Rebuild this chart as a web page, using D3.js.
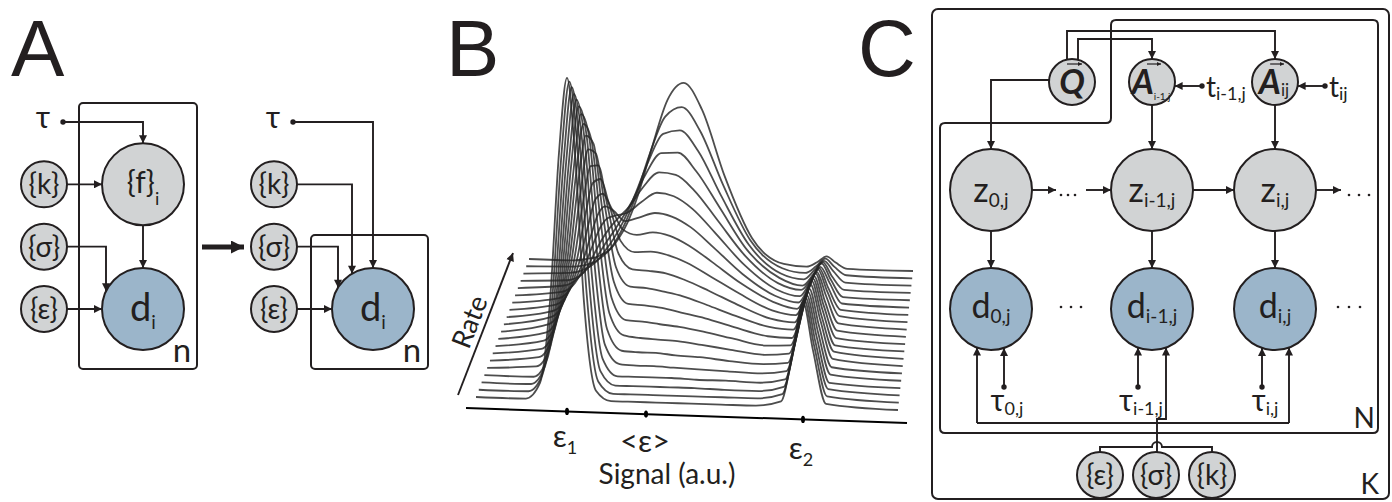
<!DOCTYPE html>
<html>
<head>
<meta charset="utf-8">
<script src="https://cdn.jsdelivr.net/npm/d3@7"></script>
<style>
  body { margin: 0; background: #fff; }
  svg { display: block; font-family: Lato, "Open Sans", "DejaVu Sans", sans-serif; }
</style>
</head>
<body>
<svg id="figure" width="1392" height="502"></svg>
<script>
// ---------- data ----------

// Panel B: signal histograms, one row per exchange rate (front row = slowest)
const signalPos = [0, 50, 64, 74, 83, 91, 99, 108, 120, 135, 152, 170, 190, 215, 245, 280, 305, 317, 327, 337, 350, 422];
const rateHeights = [
  [0, 0, 16, 98, 247, 322, 247, 98, 10, 0, 0, 0, 0, 0, 0, 0, 5, 57, 105, 57, 4, 0],
  [0, 0, 17, 96, 237, 311, 247, 104, 12, 0, 0, 0, 0, 0, 0, 0, 5, 54, 100, 54, 4, 0],
  [0, 0, 18, 94, 226, 298, 243, 110, 15, 1, 1, 1, 1, 1, 0, 0, 5, 51, 95, 51, 4, 0],
  [0, 0, 19, 92, 216, 284, 239, 115, 20, 3, 3, 3, 3, 2, 2, 1, 5, 49, 90, 49, 3, 0],
  [0, 3, 22, 92, 205, 271, 234, 122, 27, 8, 7, 7, 6, 5, 4, 3, 6, 48, 86, 47, 4, 0],
  [0, 5, 25, 91, 196, 257, 228, 127, 35, 14, 13, 13, 11, 10, 7, 5, 7, 46, 82, 45, 4, 0],
  [0, 6, 27, 89, 184, 242, 221, 131, 44, 22, 20, 19, 18, 15, 11, 7, 9, 45, 79, 44, 5, 0],
  [0, 7, 29, 86, 172, 225, 210, 134, 52, 30, 29, 27, 25, 21, 15, 9, 10, 43, 75, 41, 5, 0],
  [0, 8, 30, 82, 158, 206, 198, 133, 61, 39, 38, 36, 32, 27, 19, 11, 10, 41, 70, 39, 4, 0],
  [0, 9, 29, 76, 142, 185, 181, 131, 68, 49, 48, 45, 41, 33, 23, 13, 11, 39, 65, 36, 4, 0],
  [0, 9, 27, 68, 124, 161, 162, 125, 75, 59, 58, 56, 50, 40, 27, 14, 11, 36, 61, 33, 4, 0],
  [0, 8, 25, 59, 105, 137, 141, 116, 80, 69, 70, 67, 60, 47, 31, 15, 11, 34, 55, 31, 4, 0],
  [0, 7, 22, 50, 85, 113, 119, 105, 84, 79, 82, 79, 70, 54, 34, 16, 10, 30, 50, 28, 4, 0],
  [0, 6, 19, 40, 67, 90, 99, 95, 85, 89, 94, 91, 81, 61, 36, 15, 9, 27, 44, 24, 3, 0],
  [0, 5, 14, 31, 52, 70, 80, 83, 86, 97, 107, 104, 92, 68, 38, 14, 8, 24, 38, 22, 2, 0],
  [0, 4, 11, 22, 38, 52, 63, 73, 85, 105, 120, 118, 103, 74, 39, 13, 7, 20, 34, 18, 1, 0],
  [0, 2, 7, 16, 27, 39, 50, 63, 82, 110, 132, 133, 115, 80, 38, 11, 4, 16, 28, 14, 1, 0],
  [0, 2, 5, 10, 18, 28, 39, 54, 79, 114, 144, 148, 128, 84, 36, 8, 3, 13, 22, 12, 1, 0],
  [0, 1, 3, 6, 12, 19, 30, 46, 74, 116, 154, 164, 141, 88, 33, 6, 2, 9, 17, 9, 1, 0],
  [0, 0, 2, 4, 8, 14, 24, 39, 68, 115, 163, 181, 155, 89, 28, 3, 1, 6, 12, 6, 0, 0]
];
const signalTicks = [
  { pos: 91, base: 'ε', sub: '1' },
  { pos: 170, base: '<ε>', sub: '' },
  { pos: 327, base: 'ε', sub: '2' }
];

// Panel A / C: node labels
const priorLabels = ['{k}', '{σ}', '{ε}'];
const chainSteps = ['0', 'i-1', 'i'];
const ampSubs = ['i-1,j', 'ij'];
const bottomPriors = ['{ε}', '{σ}', '{k}'];

// ---------- setup ----------
const INK = '#231f20';
const GREY = '#d1d3d4';
const BLUE = '#9bb5ca';

const svg = d3.select('#figure');
svg.append('rect').attr('width', 1392).attr('height', 502).attr('fill', '#fff');

const defs = svg.append('defs');
function addMarker(id, w, h) {
  defs.append('marker')
    .attr('id', id)
    .attr('viewBox', '0 0 10 10')
    .attr('refX', 10).attr('refY', 5)
    .attr('markerWidth', w).attr('markerHeight', h)
    .attr('markerUnits', 'userSpaceOnUse')
    .attr('orient', 'auto')
    .append('path').attr('d', 'M0,0L10,5L0,10Z').attr('fill', INK);
}
addMarker('head', 10, 8);
addMarker('headSmall', 5, 4);
addMarker('headBig', 16, 13);

const link = d3.line();

function wire(g, pts, marker) {
  return g.append('path')
    .attr('d', link(pts))
    .attr('fill', 'none')
    .attr('stroke', INK)
    .attr('stroke-width', 1.9)
    .attr('marker-end', marker ? `url(#${marker})` : null);
}
function dot(g, x, y, r = 2.7) {
  g.append('circle').attr('cx', x).attr('cy', y).attr('r', r).attr('fill', INK);
}
function node(g, x, y, r, fill) {
  g.append('circle').attr('cx', x).attr('cy', y).attr('r', r)
    .attr('fill', fill).attr('stroke', INK).attr('stroke-width', 2);
}
// y where a vertical line at x meets a circle (top or bottom side)
function rimY(cx, cy, r, x, side = -1) {
  return cy + side * Math.sqrt(r * r - (x - cx) * (x - cx));
}
function label(g, x, y, base, sub, o = {}) {
  const t = g.append('text')
    .attr('x', x).attr('y', y)
    .attr('text-anchor', o.anchor || 'middle')
    .attr('font-size', o.size || 28)
    .attr('fill', INK);
  t.append('tspan')
    .attr('font-style', o.italic ? 'italic' : null)
    .attr('font-weight', o.bold ? 700 : null)
    .text(base);
  if (sub) {
    t.append('tspan').attr('font-size', o.subSize || 17).attr('dy', o.subDy || 6).text(sub);
  }
  return t;
}
function roundedPath(pts, r) {
  const n = pts.length;
  const towards = (p, q) => {
    const dx = q[0] - p[0], dy = q[1] - p[1], L = Math.hypot(dx, dy);
    return [p[0] + dx / L * r, p[1] + dy / L * r];
  };
  let d = '';
  pts.forEach((p, i) => {
    const a = towards(p, pts[(i - 1 + n) % n]);
    const b = towards(p, pts[(i + 1) % n]);
    d += `${i ? 'L' : 'M'}${a}Q${p} ${b}`;
  });
  return d + 'Z';
}

// panel letters
[['A', 11], ['B', 446], ['C', 858]].forEach(([t, x]) => {
  svg.append('text').attr('x', x).attr('y', 76)
    .attr('font-family', '"Liberation Sans", Arial, sans-serif')
    .attr('font-size', 80).attr('fill', INK).text(t);
});

// ---------- Panel A ----------
const rowA = d3.scaleLinear().domain([0, 3]).range([122, 309]);
const colA = d3.scaleLinear().domain([0, 1]).range([44, 143]);
const rBig = 41, rSmall = 23;

function drawModelA(g, collapsed) {
  const cx = colA(1);
  const px = colA(0);
  // plate
  if (collapsed) {
    g.append('rect').attr('x', 81).attr('y', 235).attr('width', 117).attr('height', 134)
      .attr('rx', 4).attr('fill', 'none').attr('stroke', INK).attr('stroke-width', 2);
  } else {
    g.append('rect').attr('x', 79).attr('y', 103).attr('width', 118).attr('height', 266)
      .attr('rx', 4).attr('fill', 'none').attr('stroke', INK).attr('stroke-width', 2);
  }
  // tau
  label(g, px - 1, rowA(0) + 6, 'τ', '', { size: 31 });
  dot(g, 63, rowA(0));
  const dTop = rowA(3) - rBig;
  wire(g, [[63, rowA(0)], [cx, rowA(0)], [cx, collapsed ? dTop : rowA(1) - rBig]], 'head');

  // priors
  priorLabels.forEach((lab, i) => {
    node(g, px, rowA(i + 1), rSmall, GREY);
    label(g, px, rowA(i + 1) + 10, lab, '', { size: 28 });
  });
  const start = px + rSmall;
  if (collapsed) {
    wire(g, [[start, rowA(1)], [122, rowA(1)], [122, rimY(cx, rowA(3), rBig, 122)]], 'head');
    wire(g, [[start, rowA(2)], [108, rowA(2)], [108, rimY(cx, rowA(3), rBig, 108)]], 'head');
  } else {
    node(g, cx, rowA(1), rBig, GREY);
    label(g, cx, rowA(1) + 9, '{f}', 'i', { size: 30, subSize: 18, subDy: 12 });
    wire(g, [[start, rowA(1)], [cx - rBig, rowA(1)]], 'head');
    wire(g, [[start, rowA(2)], [106, rowA(2)], [106, rimY(cx, rowA(3), rBig, 106)]], 'head');
    wire(g, [[cx, rowA(1) + rBig], [cx, dTop]], 'head');
  }
  wire(g, [[start, rowA(3)], [cx - rBig, rowA(3)]], 'head');
  node(g, cx, rowA(3), rBig, BLUE);
  label(g, cx, rowA(3) + 12, 'd', 'i', { size: 38, subSize: 19, subDy: 8 });
  label(g, 182, 362, 'n', '', { size: 33 });
}

drawModelA(svg.append('g'), false);
drawModelA(svg.append('g').attr('transform', 'translate(230,0)'), true);

// transition arrow
svg.append('path').attr('d', link([[202, 247], [244, 247]]))
  .attr('stroke', INK).attr('stroke-width', 5).attr('marker-end', 'url(#headBig)');

// ---------- Panel B ----------
const gB = svg.append('g');
const nTraces = rateHeights.length;
const depth = d3.scaleLinear().domain([0, nTraces - 1]);
const leftX = depth.copy().range([476, 529]);
const rightX = depth.copy().range([898, 913]);
const leftY = depth.copy().range([397, 259]);
const rightY = depth.copy().range([410, 271]);
const signalMax = d3.max(signalPos);
const hScale = d3.scaleLinear().domain([0, 330]).range([0, 330]);

rateHeights.forEach((row, k) => {
  const sx = d3.scaleLinear().domain([0, signalMax]).range([leftX(k), rightX(k)]);
  const sy = d3.scaleLinear().domain([0, signalMax]).range([leftY(k), rightY(k)]);
  const line = d3.line()
    .x((d, i) => sx(signalPos[i]))
    .y((d, i) => sy(signalPos[i]) - hScale(d))
    .curve(d3.curveMonotoneX);
  gB.append('path')
    .attr('d', line(row))
    .attr('fill', 'none')
    .attr('stroke', '#262626')
    .attr('stroke-opacity', 0.82)
    .attr('stroke-width', 1.8);
});

// signal axis (tilted with the front trace)
const axisX = d3.scaleLinear().domain([0, signalMax]).range([476, 898]);
const axisY = d3.scaleLinear().domain([-10, 431]).range([408, 423]);
gB.append('line')
  .attr('x1', axisX(-10)).attr('y1', axisY(-10))
  .attr('x2', axisX(431)).attr('y2', axisY(431))
  .attr('stroke', '#000').attr('stroke-width', 2);
signalTicks.forEach((t, i) => {
  const x = axisX(t.pos), y = axisY(t.pos);
  gB.append('ellipse').attr('cx', x).attr('cy', y).attr('rx', 2).attr('ry', 3.6).attr('fill', '#000');
  label(gB, x - 2 + (t.sub ? 0 : 1), y + 36 + i * 2, t.base, t.sub, { size: 31, subSize: 18, subDy: 7 });
});
label(gB, 667, 484, 'Signal (a.u.)', '', { size: 28 });

// rate arrow
wire(gB, [[458, 395], [513, 253]], 'head');
gB.append('text')
  .attr('transform', 'translate(470,322) rotate(-68.8)')
  .attr('text-anchor', 'middle').attr('dy', 9)
  .attr('font-size', 27).attr('fill', INK)
  .text('Rate');

// ---------- Panel C ----------
const gC = svg.append('g');
const colC = d3.scaleOrdinal().domain(chainSteps).range([991, 1152, 1275]);
const rowC = d3.scaleOrdinal().domain(['amp', 'state', 'data']).range([82, 190, 309]);
const qx = 1072;

// plates
gC.append('rect').attr('x', 932).attr('y', 9).attr('width', 457).attr('height', 490)
  .attr('rx', 6).attr('fill', 'none').attr('stroke', INK).attr('stroke-width', 2);
gC.append('path')
  .attr('d', roundedPath([[940, 123], [1111, 123], [1111, 20], [1378, 20], [1378, 433], [940, 433]], 5))
  .attr('fill', 'none').attr('stroke', INK).attr('stroke-width', 2);
label(gC, 1375, 428, 'N', '', { size: 28, anchor: 'end' });
label(gC, 1379, 494, 'K', '', { size: 28, anchor: 'end' });

// Q and amplitude nodes
wire(gC, [[1067, 60], [1067, 31], [colC('i'), 31], [colC('i'), rowC('amp') - rSmall]], 'head');
wire(gC, [[1078, 60], [1078, 39], [colC('i-1'), 39], [colC('i-1'), rowC('amp') - rSmall]], 'head');
wire(gC, [[qx - rSmall, 80], [colC('0'), 80], [colC('0'), rowC('state') - rBig]], 'head');
node(gC, qx, rowC('amp'), rSmall, GREY);
label(gC, qx, 94, 'Q', '', { size: 34, italic: true, bold: true });
wire(gC, [[qx - 5, 64], [qx + 10, 64]], 'headSmall').attr('stroke-width', 1.2);

['i-1', 'i'].forEach((s, i) => {
  const cx = colC(s);
  node(gC, cx, rowC('amp'), rSmall, GREY);
  label(gC, cx - 1, 94, 'A', ampSubs[i], { size: 34, italic: true, bold: true, subSize: i ? 17 : 10, subDy: i ? 2 : 0 });
  wire(gC, [[cx - 5, 64], [cx + 9, 64]], 'headSmall').attr('stroke-width', 1.2);
  // measurement time
  const tx = cx + 50;
  dot(gC, tx, 86);
  wire(gC, [[tx, 86], [cx + Math.sqrt(rSmall * rSmall - 16), 86]], 'head');
  label(gC, tx + 4, 97, 't', ampSubs[i], { size: 28, subSize: 18, subDy: 3, anchor: 'start' });
  wire(gC, [[cx, rowC('amp') + rSmall], [cx, rowC('state') - rBig]], 'head');
});

// hidden states and data
chainSteps.forEach(s => {
  const cx = colC(s);
  node(gC, cx, rowC('state'), rBig, GREY);
  label(gC, cx, 202, 'z', `${s},j`, { size: 34, subSize: 19, subDy: 5 });
  wire(gC, [[cx, rowC('state') + rBig], [cx, rowC('data') - rBig]], 'head');
  node(gC, cx, rowC('data'), rBig, BLUE);
  label(gC, cx, 318, 'd', `${s},j`, { size: 34, subSize: 19, subDy: 5 });
});

// chain arrows and ellipses
const stateY = rowC('state');
wire(gC, [[colC('0') + rBig, stateY], [1056, stateY]], 'head');
wire(gC, [[1086, stateY], [colC('i-1') - rBig, stateY]], 'head');
wire(gC, [[colC('i-1') + rBig, stateY], [colC('i') - rBig, stateY]], 'head');
wire(gC, [[colC('i') + rBig, stateY], [1341, stateY]], 'head');
[1061, 1068, 1075, 1349, 1359, 1369].forEach(x => dot(gC, x, 195, 1.3));
[1061, 1071, 1081, 1338, 1349, 1360].forEach(x => dot(gC, x, 307, 1.3));

// tau inputs and prior bus
const dataY = rowC('data');
const tauOffsets = [13, -14, -13];
const busOffsets = [-14, 14, 14];
chainSteps.forEach((s, i) => {
  const cx = colC(s);
  const tx = cx + tauOffsets[i];
  dot(gC, tx, 387);
  wire(gC, [[tx, 387], [tx, rimY(cx, dataY, rBig, tx, 1)]], 'head');
  label(gC, tx + 3, 411, 'τ', `${s},j`, { size: 30, subSize: 18, subDy: 4 });
});
const busY = 423;
const bx0 = colC('0') + busOffsets[0], bx2 = colC('i') + busOffsets[2], bx1 = colC('i-1') + busOffsets[1];
wire(gC, [[bx0, busY], [bx2, busY]]);
wire(gC, [[bx0, busY], [bx0, rimY(colC('0'), dataY, rBig, bx0, 1)]], 'head');
wire(gC, [[bx2, busY], [bx2, rimY(colC('i'), dataY, rBig, bx2, 1)]], 'head');
wire(gC, [[1157, 455], [1157, 419], [bx1, 419], [bx1, rimY(colC('i-1'), dataY, rBig, bx1, 1)]], 'head');

// bottom priors
const priorX = d3.scalePoint().domain(bottomPriors).range([1100, 1212]);
gC.append('path')
  .attr('d', `M1100,452V447H1152A5,5 0 0 1 1162,447H1212V452`)
  .attr('fill', 'none').attr('stroke', INK).attr('stroke-width', 1.9);
bottomPriors.forEach(p => {
  node(gC, priorX(p), 475, rSmall, GREY);
  label(gC, priorX(p), 485, p, '', { size: 28 });
});
</script>
</body>
</html>
